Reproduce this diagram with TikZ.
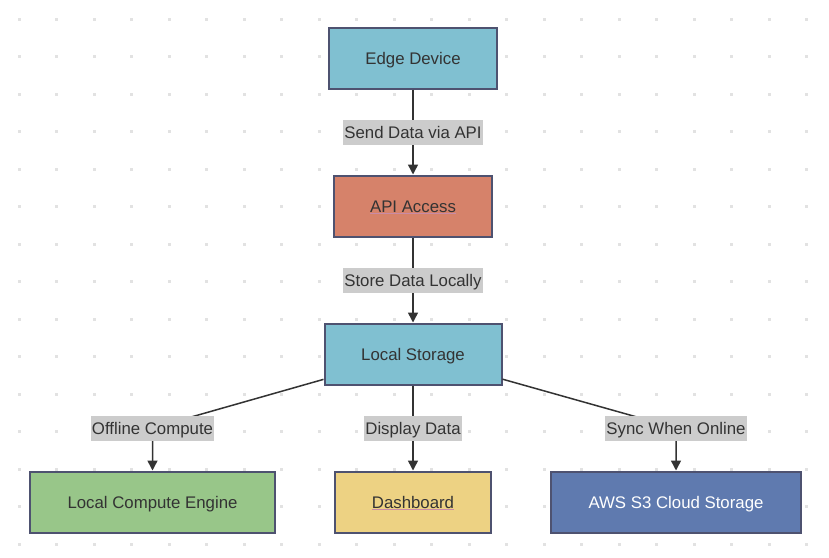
\documentclass[tikz,border=0pt]{standalone}
\usepackage{fontspec}
\setmainfont{Liberation Sans}
\usetikzlibrary{arrows.meta, positioning}

\definecolor{edgeblue}{HTML}{80C0D1}
\definecolor{apired}{HTML}{D6826A}
\definecolor{computegreen}{HTML}{98C689}
\definecolor{dashyellow}{HTML}{EDD283}
\definecolor{cloudblue}{HTML}{5F7AAF}
\definecolor{boxline}{HTML}{4E5270}
\definecolor{labelgray}{HTML}{CCCCCC}
\definecolor{dotgray}{HTML}{E2E2E2}
\definecolor{textdark}{HTML}{333333}
\definecolor{linkpink}{HTML}{C98BA6}
\newcommand{\linktext}[1]{{\color{linkpink}\underline{\color{textdark}#1}}}

\begin{document}
\begin{tikzpicture}[
  x=1pt, y=1pt,
  box/.style={draw=boxline, line width=2pt, minimum height=61pt, inner xsep=0pt, text=textdark,
    font=\fontsize{16.8}{20}\selectfont, text height=12pt, text depth=0pt},
  lbl/.style={fill=labelgray, inner xsep=1pt, inner ysep=6.5pt, text=textdark,
    font=\fontsize{16.8}{20}\selectfont, text height=12pt, text depth=0pt},
  arrow/.style={-{Triangle[width=10pt,length=10pt]}, line width=1.5pt, draw=textdark},
  node distance=85pt and 58pt
]

% Background with dot grid
\fill[white] (0,0) rectangle (829,-557);
\useasboundingbox (0,0) rectangle (829,-557);
\foreach \i in {0,...,21}
  \foreach \j in {0,...,14}
    \fill[dotgray] (17.5+\i*37.5, -17.5-\j*37.5) rectangle ++(3,-3);

% Nodes
\node[box, fill=edgeblue, minimum width=168pt] (edge) at (413,-58) {Edge Device};
\node[box, fill=apired, minimum width=158pt, below=of edge] (api) {\linktext{API Access}};
\node[box, fill=edgeblue, minimum width=177pt, below=of api] (storage) {Local Storage};
\node[box, fill=dashyellow, minimum width=156pt, below=of storage] (dash) {\linktext{Dashboard}};
\node[box, fill=computegreen, minimum width=245pt, left=of dash] (compute) {Local Compute Engine};
\node[box, fill=cloudblue, minimum width=250pt, right=of dash, text=white] (cloud) {AWS S3 Cloud Storage};

% Bend points above the outer nodes
\path (compute.north) ++(0,42.5) coordinate (bendl);
\path (cloud.north) ++(0,42.5) coordinate (bendr);

% Arrows with labels
\draw[arrow] (edge) -- node[lbl] {Send Data via API} (api);
\draw[arrow] (api) -- node[lbl] {Store Data Locally} (storage);
\draw[arrow] (storage) -- node[lbl] {Display Data} (dash);
\draw[arrow] (storage) -- (bendl) -- (compute);
\draw[arrow] (storage) -- (bendr) -- (cloud);
\node[lbl] (offline) at (bendl) {Offline Compute};
\node[lbl] (sync) at (bendr) {Sync When Online};

\end{tikzpicture}
\end{document}
